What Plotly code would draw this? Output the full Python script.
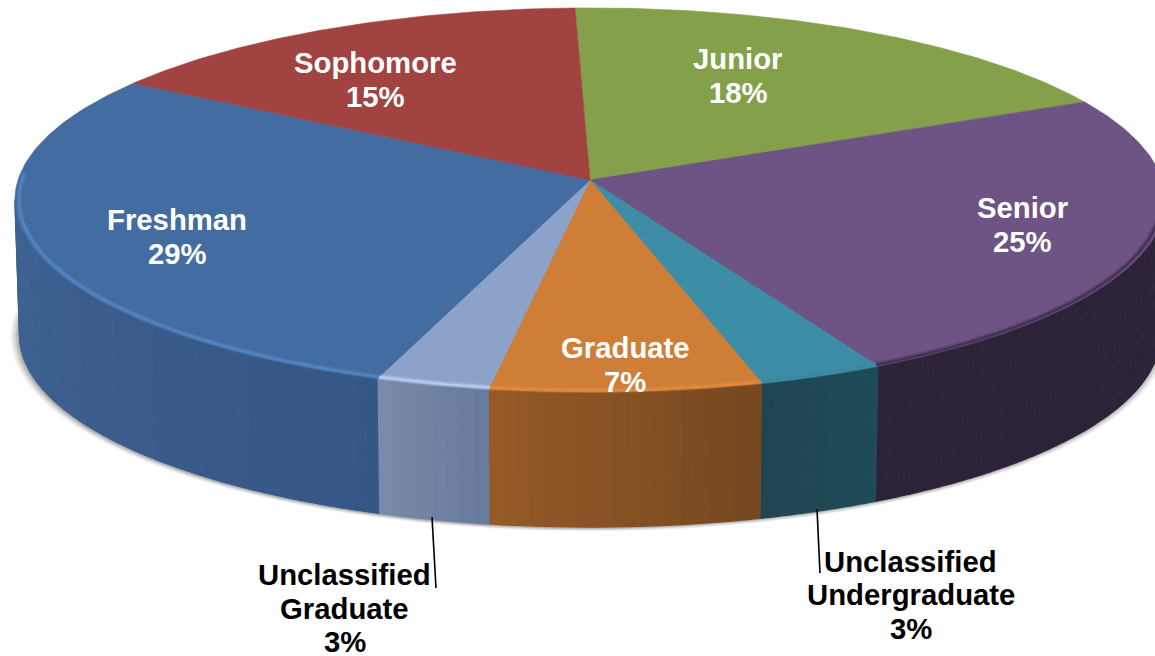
import numpy as np
import plotly.graph_objects as go

# Data, in drawing order (clockwise from the top of the pie)
categories = ["Junior", "Senior", "Unclassified Undergraduate", "Graduate", "Unclassified Graduate", "Freshman", "Sophomore"]
shares = [18.4, 24.5, 3.2, 6.9, 2.9, 28.6, 15.5]
top_colors = ["#85a04a", "#6e5484", "#3d8da6", "#cf7e38", "#8da2c8", "#436ca0", "#a14340"]
side_start = ["#5f7335", "#2e2438", "#1f4b59", "#74481f", "#667a9c", "#365786", "#7a3230"]
side_end = ["#5f7335", "#2d2338", "#1f4551", "#965a28", "#7a8bab", "#42699a", "#7a3230"]
bevel_colors = ["#85a04a", "#3f3050", "#3a8aa3", "#e08b40", "#b8cff2", "#5586c4", "#a14340"]
label_lines = [
    ["Junior", "18%"], ["Senior", "25%"], ["Unclassified", "Undergraduate", "3%"],
    ["Graduate", "7%"], ["Unclassified", "Graduate", "3%"], ["Freshman", "29%"], ["Sophomore", "15%"],
]
label_centers = [(738, 58.5), (1022, 207.5), (910.5, 561), (625, 347.5), (344.5, 574.5), (177, 219.5), (375, 62.5)]
label_colors = ["white", "white", "black", "white", "black", "white", "white"]

# Projection of the tilted disc
CX, CY, A, B, K, DEPTH, START = 590, 180, 572, 190, 0.104, 135, -1.66
LINE_GAP = 33.7
RIM_FROM, RIM_TO = 96, 264  # the part of the rim that faces the viewer


def project(deg, r=1.0, z=0.0):
    t = np.radians(deg)
    u, v = r * np.sin(t), -r * np.cos(t)
    s = 1 / (1 - K * v)
    return CX + A * u * s * (1 - 0.008 * z), CY + B * v * s + DEPTH * z


def hex_mix(c1, c2, f):
    a = [int(c1[i:i + 2], 16) for i in (1, 3, 5)]
    b = [int(c2[i:i + 2], 16) for i in (1, 3, 5)]
    return "rgb(%d,%d,%d)" % tuple(round(p + (q - p) * f) for p, q in zip(a, b))


def hex_rgba(c, alpha):
    return "rgba(%d,%d,%d,%s)" % (int(c[1:3], 16), int(c[3:5], 16), int(c[5:7], 16), alpha)


def poly(x, y, color, width=0.6):
    return go.Scatter(x=x, y=y, mode="lines", fill="toself", fillcolor=color,
                      line=dict(width=width, color=color), hoverinfo="skip", showlegend=False)


edges = START + np.concatenate([[0], np.cumsum(shares)]) * 3.6
fig = go.Figure()

# Soft drop shadow
ts = np.linspace(0, 360, 361)
for grow, alpha in [(0.014, 0.05), (0.011, 0.07), (0.008, 0.09), (0.005, 0.12), (0.002, 0.16)]:
    x, y = project(ts, 1 + grow, 1.0)
    fig.add_trace(poly(x - 1, y + 1, f"rgba(60,60,60,{alpha})", 0))

# Rim of the disc, drawn as narrow strips so it can shade along the front
for i in range(len(shares)):
    a0, a1 = edges[i], edges[i + 1]
    lo, hi = max(a0, RIM_FROM), min(a1, RIM_TO)
    if lo >= hi:
        continue
    n = max(2, int((hi - lo) / 1.2))
    cuts = np.linspace(lo, hi, n + 1)
    for j in range(n):
        arc = np.linspace(cuts[j], cuts[j + 1], 4)
        xt, yt = project(arc, 1, 0)
        xb, yb = project(arc, 1, 1)
        f = ((cuts[j] + cuts[j + 1]) / 2 - a0) / (a1 - a0)
        fig.add_trace(poly(np.r_[xt, xb[::-1]], np.r_[yt, yb[::-1]], hex_mix(side_start[i], side_end[i], f), 1.2))

# Top face
for i in range(len(shares)):
    arc = np.linspace(edges[i], edges[i + 1], 120)
    x, y = project(arc)
    fig.add_trace(poly(np.r_[CX, x, CX], np.r_[CY, y, CY], top_colors[i]))

# Bevel highlight along the near edge
for i in range(1, 6):
    a0, a1 = max(edges[i], 100), min(edges[i + 1], 272)
    arc = np.linspace(a0, a1, 80)
    x, y = project(arc, 0.993)
    for w, al in [(6, 0.25), (3.5, 0.45), (1.8, 0.8)]:
        fig.add_trace(go.Scatter(x=x, y=y, mode="lines", line=dict(width=w, color=hex_rgba(bevel_colors[i], al)),
                                 hoverinfo="skip", showlegend=False))

# Leader lines for the two outside labels
for lx, ly in [([432, 436], [517, 588]), ([817, 820], [509, 573])]:
    fig.add_trace(go.Scatter(x=lx, y=ly, mode="lines", line=dict(width=1.6, color="black"),
                             hoverinfo="skip", showlegend=False))

# Labels
for lines, (lx, ly), col in zip(label_lines, label_centers, label_colors):
    for n, text in enumerate(lines):
        fig.add_annotation(x=lx, y=ly + n * LINE_GAP, text=f"<b>{text}</b>", showarrow=False,
                           xanchor="center", yanchor="middle",
                           font=dict(family="Liberation Sans", size=29.3, color=col))

fig.update_layout(
    width=1155, height=656, margin=dict(l=0, r=0, t=0, b=0),
    paper_bgcolor="white", plot_bgcolor="white", showlegend=False,
    xaxis=dict(range=[0, 1155], visible=False, fixedrange=True),
    yaxis=dict(range=[656, 0], visible=False, fixedrange=True),
)
fig.write_html("out.html", config=dict(displayModeBar=False),
               post_script="document.body.style.margin='0';")
